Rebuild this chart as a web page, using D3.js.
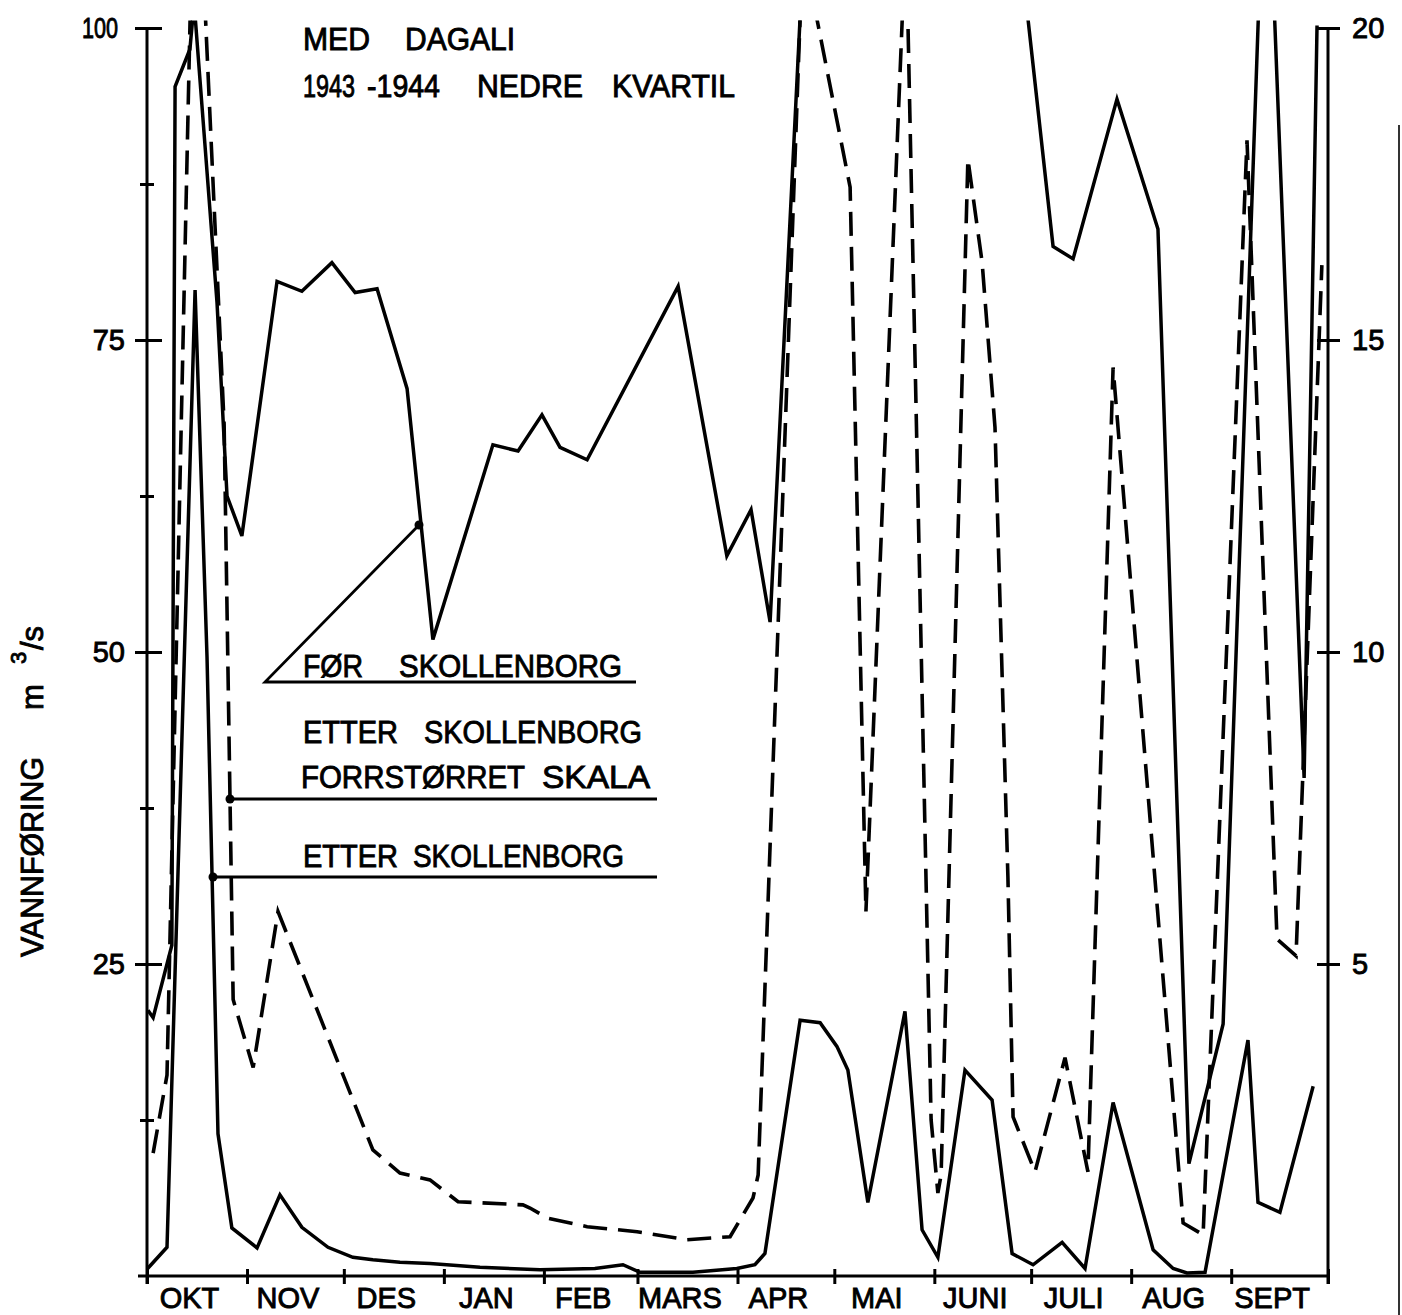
<!DOCTYPE html>
<html>
<head>
<meta charset="utf-8">
<script src="https://cdn.jsdelivr.net/npm/d3@7"></script>
<style>
  body { margin: 0; background: #fff; }
  text { font-family: 'Liberation Sans', Arial, sans-serif; fill: #000; stroke: #000; stroke-width: 0.9px; }
</style>
</head>
<body>
<script>
// ---------- DATA ----------
const months = ["OKT","NOV","DES","JAN","FEB","MARS","APR","MAI","JUNI","JULI","AUG","SEPT"];
const leftTicks = [25, 50, 75, 100];
const leftMinorTicks = [12.5, 37.5, 62.5, 87.5];
const rightTicks = [5, 10, 15, 20];

// days since 1 Oct 1943
const forDays = [0.3,1.9,7.7,8.7,13.3,14.6,21.7,24.8,29.4,40.3,48.0,57.3,64.5,71.3,80.6,88.6,107.2,115.0,122.4,128.0,136.4,164.6,179.7,187.2,193.1,203.2,271.2,280.8,287.0,300.6,313.3,322.9,333.5,346.8,358.6,362.6];
const forValues = [21.3,20.7,26.5,95.3,98.3,102,78.0,62.5,59.3,79.7,78.9,81.2,78.8,79.1,71.1,51.0,66.6,66.1,69.0,66.4,65.4,79.3,57.7,61.4,52.4,105,105,82.5,81.5,94.3,83.9,9.0,20.2,118.5,39.9,100.2];

const etterDays = [0.2,6.2,14.9,18.6,22.0,26.3,34.1,41.2,48.0,56.1,63.8,70.0,78.4,87.7,103.2,121.8,138.8,147.5,152.8,169.2,182.8,188.4,191.5,202.4,208.6,213.8,217.2,223.4,234.9,240.2,245.1,253.5,261.9,268.1,274.6,283.6,290.7,299.4,311.8,318.0,322.3,327.9,341.2,344.3,351.1,361.4];
const etterValues = [0.6,2.3,79.0,49.6,11.4,3.85,2.25,6.5,3.9,2.3,1.5,1.3,1.1,1.0,0.7,0.5,0.6,0.9,0.3,0.3,0.6,0.9,1.8,20.5,20.3,18.4,16.5,5.9,21.2,3.7,1.5,16.5,14.1,1.8,0.9,2.7,0.6,13.9,2.1,0.6,0.25,0.3,18.9,5.9,5.1,15.2];

// enlarged scale (right axis, 0-20)
const dashedDays = [1.9,6.2,14.9,23.9,26.7,32.9,40.6,44.3,70.0,78.4,87.7,96.4,116.5,118.7,124.0,136.4,151.9,167.4,180.7,187.8,189.4,203.2,217.9,222.8,235.2,243.0,245.1,246.1,254.4,258.8,262.8,266.8,268.4,275.2,284.5,291.6,299.4,321.1,327.3,340.9,350.2,356.1,364.1];
const dashedValues = [1.97,3.22,23.8,13.65,4.43,3.34,5.84,5.36,2.02,1.65,1.54,1.19,1.14,1.09,0.93,0.79,0.71,0.58,0.63,1.25,1.62,21.3,17.45,5.84,21.6,2.50,1.33,1.62,17.9,16.25,13.6,6.4,2.55,1.67,3.5,1.67,14.56,0.85,0.66,18.2,5.4,5.13,16.2];

// ---------- SETUP ----------
const W = 1402, H = 1315;
const START = new Date(1943, 9, 1), END = new Date(1944, 9, 1);
const dayToDate = d => new Date(START.getTime() + d * 86400000);

const x = d3.scaleTime().domain([START, END]).range([147, 1328]);
const yL = d3.scaleLinear().domain([0, 100]).range([1276, 28]);
const yR = d3.scaleLinear().domain([0, 20]).range([1276, 28]);

const svg = d3.select("body").append("svg").attr("width", W).attr("height", H);
svg.append("rect").attr("width", W).attr("height", H).attr("fill", "#fff");

svg.append("defs").append("clipPath").attr("id", "plotclip")
  .append("rect").attr("x", 140).attr("y", yL(100.6)).attr("width", 1200).attr("height", 1290 - yL(100.6));

const fontF = "'Liberation Sans', Arial, sans-serif";

// ---------- AXES ----------
const axisW = 3;
// x axis: month boundary ticks
const gx = svg.append("g").attr("transform", `translate(0,${yL(0)})`)
  .call(d3.axisBottom(x).tickValues(d3.timeMonth.range(START, d3.timeDay.offset(END, 1))).tickFormat("").tickSizeInner(8).tickSizeOuter(0));
gx.select(".domain").attr("d", `M138,0H${x(END)}`).attr("stroke-width", axisW).attr("stroke", "#000");
gx.selectAll(".tick line").attr("y1", -7).attr("y2", 8).attr("stroke-width", axisW).attr("stroke", "#000");

// month labels
const monthMid = months.map((m, i) => new Date((d3.timeMonth.offset(START, i).getTime() + d3.timeMonth.offset(START, i + 1).getTime()) / 2));
const gm = svg.append("g").attr("transform", `translate(0,${yL(0)})`)
  .call(d3.axisBottom(x).tickValues(monthMid).tickFormat((d, i) => months[i]).tickSize(0));
gm.select(".domain").remove();
gm.selectAll(".tick text").attr("x", -8).attr("y", 32).attr("dy", 0)
  .style("font-size", "29px").style("font-family", fontF).attr("fill", "#000");

// left axis
const gl = svg.append("g").attr("transform", `translate(${x(START)},0)`)
  .call(d3.axisLeft(yL).tickValues(leftTicks).tickSizeInner(12).tickSizeOuter(0).tickPadding(10));
gl.select(".domain").attr("d", `M0,${yL(100)}V${yL(0) + 8}`).attr("stroke-width", axisW).attr("stroke", "#000");
gl.selectAll(".tick line").attr("x1", 15).attr("x2", -12).attr("stroke-width", axisW).attr("stroke", "#000");
gl.selectAll(".tick text").attr("x", -22).style("font-size", "29px")
  .style("font-family", fontF).attr("fill", "#000")
  .each(function(d) { if (d === 100) d3.select(this).attr("x", -29).attr("textLength", 36).attr("lengthAdjust", "spacingAndGlyphs"); });

const glm = svg.append("g").attr("transform", `translate(${x(START)},0)`)
  .call(d3.axisLeft(yL).tickValues(leftMinorTicks).tickSizeInner(7).tickSizeOuter(0).tickFormat(""));
glm.select(".domain").remove();
glm.selectAll(".tick line").attr("x1", 7).attr("stroke-width", axisW).attr("stroke", "#000");

// right axis
const gr = svg.append("g").attr("transform", `translate(${x(END)},0)`)
  .call(d3.axisRight(yR).tickValues(rightTicks).tickSizeInner(12).tickSizeOuter(0));
gr.select(".domain").attr("d", `M0,${yR(20)}V${yR(0) + 8}`).attr("stroke-width", axisW).attr("stroke", "#000");
gr.selectAll(".tick line").attr("x1", -11).attr("x2", 12).attr("stroke-width", axisW).attr("stroke", "#000");
gr.selectAll(".tick text").attr("x", 24).style("font-size", "29px")
  .style("font-family", fontF).attr("fill", "#000");

// ---------- SERIES ----------
const plot = svg.append("g").attr("clip-path", "url(#plotclip)");
const mk = (days, vals) => days.map((d, i) => ({ date: dayToDate(d), v: vals[i] }));

const lineL = d3.line().x(d => x(d.date)).y(d => yL(d.v));
const lineR = d3.line().x(d => x(d.date)).y(d => yR(d.v));

plot.append("path").datum(mk(forDays, forValues)).attr("d", lineL)
  .attr("fill", "none").attr("stroke", "#000").attr("stroke-width", 3.5).attr("stroke-linejoin", "miter");
plot.append("path").datum(mk(etterDays, etterValues)).attr("d", lineL)
  .attr("fill", "none").attr("stroke", "#000").attr("stroke-width", 3.5).attr("stroke-linejoin", "miter");
plot.append("path").datum(mk(dashedDays, dashedValues)).attr("d", lineR)
  .attr("fill", "none").attr("stroke", "#000").attr("stroke-width", 3.6).attr("stroke-dasharray", "24,11");

// ---------- TITLE ----------
function word(t, xx, yy, len, size) {
  svg.append("text").attr("x", xx).attr("y", yy).attr("textLength", len).attr("lengthAdjust", "spacingAndGlyphs")
    .style("font-size", size + "px").style("font-family", fontF).text(t);
}
word("MED", 303, 50, 67, 31);
word("DAGALI", 405, 50, 110, 31);
word("1943", 303, 97, 52, 31);
word("-1944", 367, 97, 73, 31);
word("NEDRE", 477, 97, 106, 31);
word("KVARTIL", 612, 97, 123, 31);

// ---------- LEGEND ----------
const lg = svg.append("g").attr("stroke", "#000").attr("stroke-width", 2.8).attr("fill", "none");
lg.append("path").attr("d", "M419,525L265,682H636");
lg.append("path").attr("d", "M230,799H657");
lg.append("path").attr("d", "M213,877H657");
[[419,525],[230,799],[213,877]].forEach(p => svg.append("circle").attr("cx", p[0]).attr("cy", p[1]).attr("r", 4.5).attr("fill", "#000"));

word("FØR", 303, 677, 60, 31);
word("SKOLLENBORG", 399, 677, 223, 31);
word("ETTER", 303, 743, 95, 31);
word("SKOLLENBORG", 424, 743, 218, 31);
word("FORRSTØRRET", 301, 788, 224, 31);
word("SKALA", 542, 788, 108, 31);
word("ETTER", 303, 867, 95, 31);
word("SKOLLENBORG", 413, 867, 211, 31);

// ---------- Y LABEL ----------
const yl = svg.append("text").attr("transform", "translate(43,957) rotate(-90)")
  .style("font-size", "31px").style("font-family", fontF);
yl.append("tspan").attr("x", 0).attr("textLength", 200).attr("lengthAdjust", "spacingAndGlyphs").text("VANNFØRING");
yl.append("tspan").attr("x", 247).text("m");
yl.append("tspan").attr("x", 293).attr("dy", -17).style("font-size", "22px").text("3");
yl.append("tspan").attr("x", 307).attr("dy", 17).text("/s");

// scan edge at right
svg.append("line").attr("x1", 1399).attr("x2", 1399).attr("y1", 125).attr("y2", H)
  .attr("stroke", "#333").attr("stroke-width", 2);
</script>
</body>
</html>
